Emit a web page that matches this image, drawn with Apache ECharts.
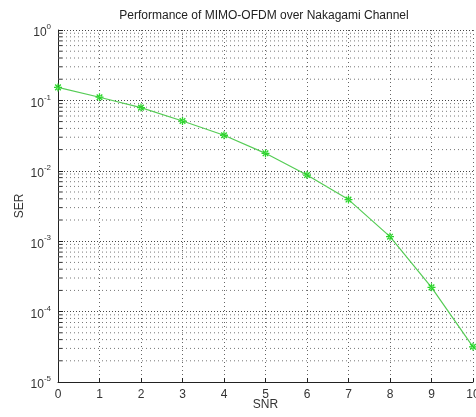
<!DOCTYPE html>
<html>
<head>
<meta charset="utf-8">
<script src="https://cdn.jsdelivr.net/npm/echarts@6/dist/echarts.min.js"></script>
<style>
html,body{margin:0;padding:0;background:#fff;}
#chart{width:476px;height:417px;}
</style>
</head>
<body>
<div id="chart"></div>
<script>
var snr = [0, 1, 2, 3, 4, 5, 6, 7, 8, 9, 10];
var ser = [0.153, 0.111, 0.079, 0.051, 0.032, 0.0177, 0.0087, 0.0039, 0.00116, 0.000221, 0.0000316];
var decades = [1e-5, 1e-4, 1e-3, 1e-2, 1e-1];
var minorMultipliers = [2, 3, 4, 5, 6, 7, 8, 9];
var titleText = 'Performance of MIMO-OFDM over Nakagami Channel';

var minorVals = [];
decades.forEach(function (d) {
  minorMultipliers.forEach(function (m) { minorVals.push(d * m); });
});

var font = 'Liberation Sans, Arial, sans-serif';
var series = [];
minorVals.forEach(function (v) {
  series.push({
    type: 'line', silent: true, symbol: 'none', z: 1,
    data: [[0, v], [10, v]],
    lineStyle: { type: [1, 3], color: '#777', width: 1 },
    emphasis: { disabled: true }
  });
  series.push({
    type: 'line', silent: true, symbol: 'none', z: 1,
    data: [[0, v], [0.1, v]],
    lineStyle: { type: 'solid', color: '#333', width: 1 },
    emphasis: { disabled: true }
  });
});
series.push({
  type: 'line',
  data: snr.map(function (x, i) { return [x, ser[i]]; }),
  lineStyle: { color: '#55cc55', width: 1.2 },
  itemStyle: { color: '#2ad62a' },
  symbol: 'path://M-0.8 -5 L0.8 -5 L0.8 5 L-0.8 5 Z M-5 -0.8 L5 -0.8 L5 0.8 L-5 0.8 Z M-4.1 -2.9 L-2.9 -4.1 L4.1 2.9 L2.9 4.1 Z M4.1 -2.9 L2.9 -4.1 L-4.1 2.9 L-2.9 4.1 Z',
  symbolSize: 8,
  z: 5
});

var chart = echarts.init(document.getElementById('chart'), null, { renderer: 'canvas' });
chart.setOption({
  animation: false,
  backgroundColor: '#fff',
  title: {
    text: titleText,
    left: 259, top: 5,
    textAlign: 'center',
    textStyle: { fontFamily: font, fontSize: 12, fontWeight: 'normal', color: '#222' }
  },
  grid: { left: 58, right: 3, top: 30, bottom: 35, outerBoundsMode: 'none', containLabel: false },
  xAxis: {
    type: 'value', min: 0, max: 10, interval: 1,
    name: 'SNR', nameLocation: 'middle', nameGap: 17, nameMoveOverlap: false,
    nameTextStyle: { fontFamily: font, fontSize: 12, color: '#333' },
    axisLine: { show: true, lineStyle: { color: '#222', width: 1 } },
    axisTick: { show: true, inside: true, length: 4, lineStyle: { color: '#222' } },
    axisLabel: { fontFamily: font, fontSize: 12, color: '#333', margin: 7 },
    splitLine: { show: true, lineStyle: { type: [1, 3], color: '#666', width: 1 } }
  },
  yAxis: {
    type: 'log', logBase: 10, min: 1e-5, max: 1, interval: 1,
    name: 'SER', nameLocation: 'middle', nameGap: 32, nameMoveOverlap: false,
    nameTextStyle: { fontFamily: font, fontSize: 12, color: '#333' },
    axisLine: { show: true, lineStyle: { color: '#222', width: 1 } },
    axisTick: { show: true, inside: true, length: 5, lineStyle: { color: '#222' } },
    axisLabel: {
      margin: 7,
      padding: [2, 0, 0, 0],
      formatter: function (v) {
        var e = Math.round(Math.log10(v));
        return '{b|10}{s|' + e + '}';
      },
      rich: {
        b: { fontFamily: font, fontSize: 12, color: '#333', verticalAlign: 'bottom' },
        s: { fontFamily: font, fontSize: 8, color: '#333', verticalAlign: 'bottom', padding: [0, 0, 8, 0] }
      }
    },
    splitLine: { show: true, lineStyle: { type: [1, 2], color: '#444', width: 1 } }
  },
  series: series
});
</script>
</body>
</html>
